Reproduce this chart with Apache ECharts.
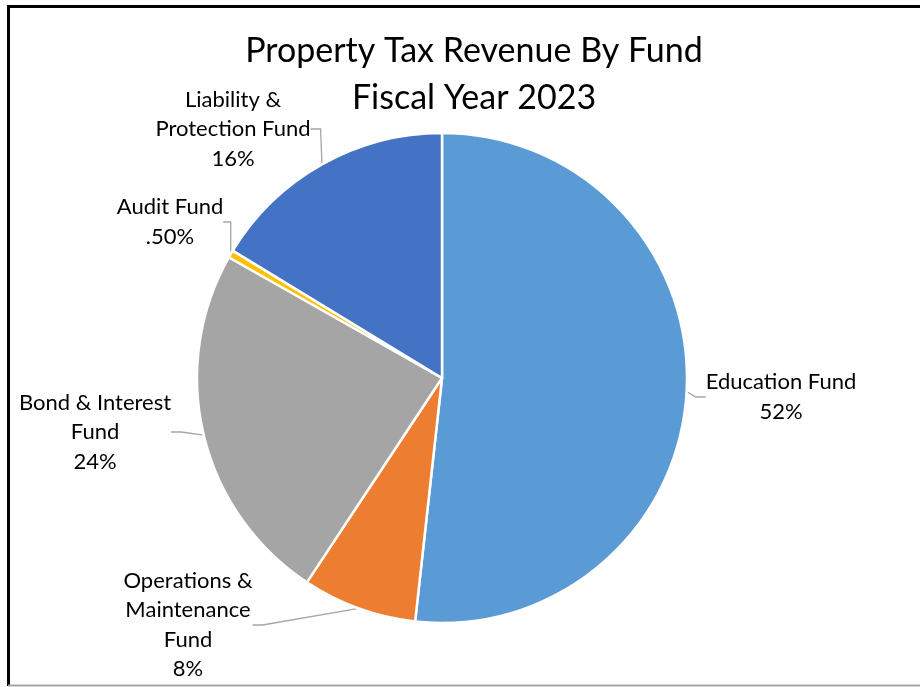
<!DOCTYPE html>
<html><head><meta charset="utf-8">
<script src="https://cdn.jsdelivr.net/npm/echarts@6/dist/echarts.min.js"></script>
<style>html,body{margin:0;padding:0;background:#fff}#c{width:920px;height:687px}</style>
</head><body><div id="c"></div>
<script>
const categories = ['Education Fund','Operations & Maintenance Fund','Bond & Interest Fund','Audit Fund','Liability & Protection Fund'];
const labelTexts = ['Education Fund\n52%','Operations &\nMaintenance\nFund\n8%','Bond & Interest\nFund\n24%','Audit Fund\n.50%','Liability &\nProtection Fund\n16%'];
const values = [51.75, 7.55, 23.9, 0.5, 16.3];
const colors = ['#5B9BD5','#ED7D31','#A5A5A5','#FFC000','#4472C4'];
const labelPos = [[781,397],[188,625],[95,432],[170,222],[233,129]];

const chart = echarts.init(document.getElementById('c'));
chart.setOption({
  animation:false,
  title:{text:'Property Tax Revenue By Fund\nFiscal Year 2023',left:469,top:23,textAlign:'center',
    textStyle:{fontFamily:'Lato',fontSize:34,fontWeight:'normal',color:'#000',lineHeight:47}},
  graphic:[
    {type:'line',shape:{x1:7,y1:6.5,x2:920,y2:6.5},style:{stroke:'#000',lineWidth:3}},
    {type:'line',shape:{x1:8.5,y1:5,x2:8.5,y2:686},style:{stroke:'#000',lineWidth:3}},
    {type:'line',shape:{x1:8,y1:685.5,x2:920,y2:685.5},style:{stroke:'#A6A6A6',lineWidth:2}}
  ],
  series:[{
    type:'pie',
    center:[442,378],
    radius:[0,245],
    startAngle:90,
    clockwise:true,
    itemStyle:{borderColor:'#fff',borderWidth:2.5},
    label:{show:true,position:'outside',fontFamily:'Lato',fontSize:22,color:'#000',lineHeight:29.5,align:'center',
      formatter:p=>labelTexts[p.dataIndex]},
    labelLine:{show:true,length:10,length2:10,lineStyle:{color:'#A6A6A6',width:1.3}},
    labelLayout:function(p){const q=labelPos[p.dataIndex];return {x:q[0],y:q[1],align:'center',verticalAlign:'middle'};},
    data:categories.map((c,i)=>({name:c,value:values[i],itemStyle:{color:colors[i]}}))
  }]
});
</script></body></html>
